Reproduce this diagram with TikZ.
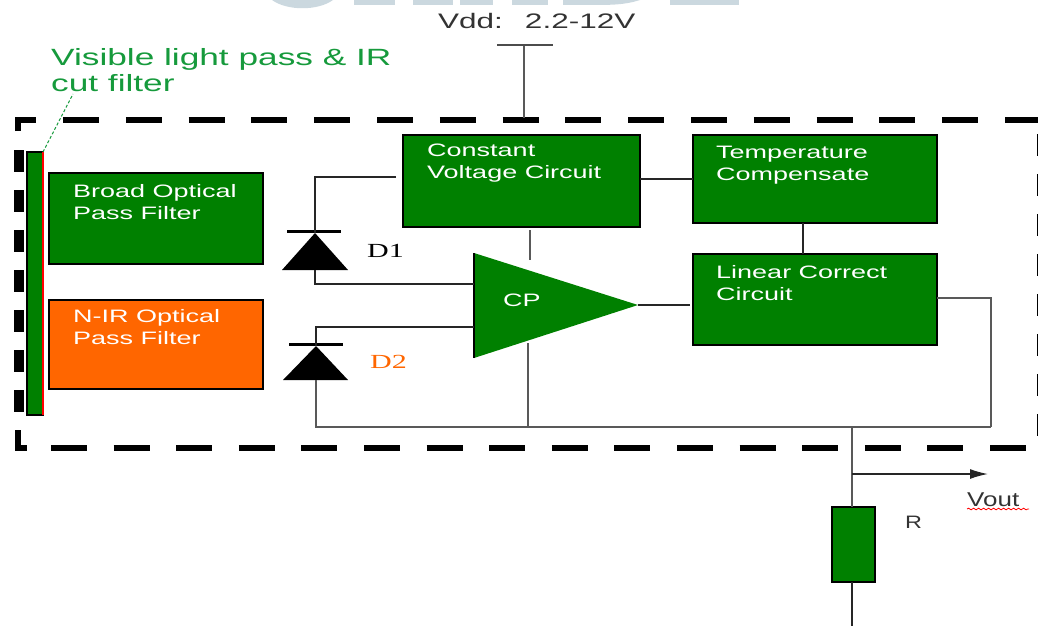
\documentclass[tikz,border=0pt]{standalone}
\usepackage{fontspec}
\setmainfont{Liberation Sans}
\newfontfamily\widesans[FakeStretch=1.3]{Liberation Sans}
\newfontfamily\widersans[FakeStretch=1.5]{Liberation Sans}
\newfontfamily\wideserif[FakeStretch=1.5]{Liberation Serif}
\usetikzlibrary{arrows.meta,decorations.pathmorphing}
\definecolor{cGreen}{HTML}{008000}
\definecolor{cOrange}{HTML}{FF6600}
\definecolor{cMark}{HTML}{CBD8DF}
\definecolor{lblgreen}{HTML}{169A3C}
\definecolor{lblgrey}{HTML}{333333}
\tikzset{
  blockbox/.style={draw=black,line width=1.6pt,fill=cGreen,anchor=north west,
                   inner sep=0pt,outer sep=0pt},
  blocktext/.style={anchor=north west,align=left,text=white,inner sep=0pt,
                    font=\widersans\fontsize{18}{22}\selectfont},
  wire/.style={line width=1.5pt,black!85},
  thickwire/.style={line width=2.2pt,black!65},
  outerdash/.style={line width=6.5pt,black},
  sidedash/.style={line width=10pt,black}
}

\begin{document}
\begin{tikzpicture}[x=1pt,y=-1pt,line join=miter]
  \useasboundingbox (0,0) rectangle (1038,626);

  % watermark
  \begin{scope}[cMark]
    \fill (272,0) .. controls (287,11) and (318,11) .. (333,0) -- cycle;
    \fill (354,0) rectangle (395,5);
    \fill (413,0) rectangle (453,5);
    \fill (460,0) rectangle (493,5);
    \fill (512,0) rectangle (548,5);
    \fill (563,0) -- (640,0) .. controls (625,5) and (610,5) .. (590,5) -- (563,5) -- cycle;
    \fill (670,0) rectangle (739,5);
  \end{scope}

  % outer package
  \begin{scope}
    \draw[outerdash,dash pattern=on 36pt off 26.8pt] (63,120) -- (1038,120);
    \draw[outerdash,dash pattern=on 36pt off 26.6pt] (51,448) -- (1030,448);
    \draw[sidedash,dash pattern=on 22pt off 18pt] (19,150) -- (19,414);
    \draw[sidedash,dash pattern=on 22pt off 18pt] (1042,134) -- (1042,440);
    \draw[outerdash] (18,131) -- (18,120) -- (36,120);
    \draw[outerdash] (18,430) -- (18,448) -- (27,448);
  \end{scope}

  % blocks
  \node[blockbox,minimum width=16pt,minimum height=263pt] (filterbar) at (27,152) {};
  \draw[red,line width=1.8pt] (filterbar.north east) -- (filterbar.south east);

  \node[blockbox,minimum width=214pt,minimum height=91pt] (broad) at (49,173) {};
  \node[blockbox,fill=cOrange,minimum width=214pt,minimum height=89pt] (nir) at (49,300) {};
  \node[blockbox,minimum width=237pt,minimum height=92pt] (constant) at (403,135) {};
  \node[blockbox,minimum width=244pt,minimum height=88pt] (temp) at (693,135) {};
  \node[blockbox,minimum width=244pt,minimum height=91pt] (linear) at (693,254) {};
  \node[blockbox,minimum width=43pt,minimum height=75pt] (res) at (832,507) {};

  \node[blocktext] (broadlbl) at (73,184) {Broad Optical\\Pass Filter};
  \node[blocktext] (nirlbl) at (73,309) {N-IR Optical\\Pass Filter};
  \node[blocktext] (constantlbl) at (427,144) {Constant\\Voltage Circuit};
  \node[blocktext] (templbl) at (716,146) {Temperature\\Compensate};
  \node[blocktext] (linearlbl) at (716,265) {Linear Correct\\Circuit};

  % comparator
  \coordinate (cptop) at (474,253);
  \coordinate (cpbot) at (474,358);
  \coordinate (cpout) at (638,305);
  \fill[cGreen] (cptop) -- (cpout) -- (cpbot) -- cycle;
  \draw[wire,black] (cptop) -- (cpbot);
  \node[blocktext] (cplbl) at (503,294) {CP};

  % diodes
  \coordinate (dAtip) at (315,233);
  \coordinate (dAbase) at (315,270);
  \coordinate (dBtip) at (316,346);
  \coordinate (dBbase) at (316,380);
  \fill (dAtip) -- (348,270) -- (282,270) -- cycle;
  \draw[line width=3pt] (287,231) -- (341,231);
  \fill (dBtip) -- (348,380) -- (283,380) -- cycle;
  \draw[line width=3pt] (289,344) -- (343,344);
  \node[anchor=west,inner sep=0pt,font=\wideserif\fontsize{20}{20}\selectfont] (dAlbl) at (367,251) {D1};
  \node[anchor=west,inner sep=0pt,text=cOrange,font=\wideserif\fontsize{20}{20}\selectfont] (dBlbl) at (370,362) {D2};

  % supply
  \coordinate (vddtop) at (524,45);
  \coordinate (vddbot) at (524,118);
  \draw[thickwire] (vddtop) -- (vddbot);
  \draw[wire,black!70] (497,45) -- (553,45);
  \node[anchor=west,inner sep=0pt,text=lblgrey,font=\widersans\fontsize{21}{21}\selectfont] (vddlbl) at (438,21) {Vdd:\hspace{22pt}2.2-12V};

  % connectors
  \coordinate (rail) at (316,427);
  \coordinate (railend) at (991,427);
  \draw[wire] ([xshift=-7pt,yshift=4pt]constant.west) -| (dAtip);
  \draw[wire] (dAbase) |- (cptop |- 0,284);
  \draw[wire] (dBtip) |- (cptop |- 0,327);
  \draw[thickwire] (dBbase) -- (rail) -- (railend);
  \draw[thickwire] (railend) |- (linear.east |- 0,298);
  \draw[wire] (constant.east |- temp.west) -- (temp.west);
  \draw[wire,line width=2pt] ([xshift=-12pt]temp.south) -- ([xshift=-12pt]linear.north);
  \draw[thickwire] (530,230) -- (530,260);
  \draw[thickwire] (528,343) -- (528,427);
  \draw[wire] (cpout) -- (690,305);

  % output
  \coordinate (outtop) at (852,427);
  \coordinate (outtap) at (852,474);
  \coordinate (outend) at (988,474);
  \coordinate (gnd) at (852,626);
  \draw[thickwire,line width=2.6pt] (outtop) -- (res.north -| outtop);
  \draw[wire,line width=1.8pt] (res.south -| outtop) -- (gnd);
  \draw[wire,-{Latex[length=18pt,width=10pt]}] (outtap) -- (outend);
  \node[anchor=base west,inner sep=0pt,text=lblgrey,font=\widesans\fontsize{20}{20}\selectfont] (voutlbl) at (967,506) {Vout};
  \draw[red,line width=0.8pt,decorate,decoration={snake,amplitude=0.8pt,segment length=5pt}]
    (967,509) -- (1029,509);
  \node[anchor=base west,inner sep=0pt,text=lblgrey,font=\widesans\fontsize{18}{18}\selectfont] (rlbl) at (905,528) {R};

  % filter label
  \node[anchor=north west,align=left,inner sep=0pt,text=lblgreen,
        font=\widersans\fontsize{23.5}{26}\selectfont] (filterlbl) at (51,48) {Visible light pass \& IR\\cut filter};
  \draw[lblgreen,line width=1pt,densely dashed] (filterbar.north east) -- (73,94);

\end{tikzpicture}
\end{document}
